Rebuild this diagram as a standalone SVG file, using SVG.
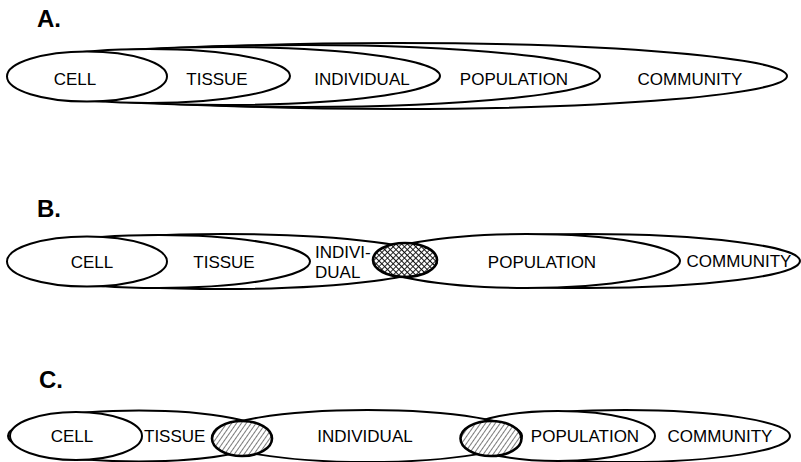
<svg xmlns="http://www.w3.org/2000/svg" width="801" height="462" viewBox="0 0 801 462">
<defs>
<pattern id="cross" patternUnits="userSpaceOnUse" width="4" height="4" patternTransform="rotate(45)">
<rect width="4" height="4" fill="#fff"/>
<path d="M0 0H4M0 0V4" stroke="#111" stroke-width="1.8"/>
</pattern>
<pattern id="diag" patternUnits="userSpaceOnUse" width="4" height="4" patternTransform="rotate(-55)">
<rect width="4" height="4" fill="#fff"/>
<path d="M0 0H4" stroke="#111" stroke-width="1.1"/>
</pattern>
<style>
.e{fill:#fff;stroke:#000;stroke-width:2}
.h{stroke:#000;stroke-width:2.6}
.t{font-family:"Liberation Sans",Arial,Helvetica,sans-serif;font-size:17px;fill:#000;text-anchor:middle}
.ts{text-anchor:start}
.lab{font-family:"Liberation Sans",Arial,Helvetica,sans-serif;font-size:24px;font-weight:bold;fill:#000}
</style>
</defs>
<rect width="801" height="462" fill="#fff"/>
<g id="connectors"/>

<!-- Panel A -->
<text class="lab" x="37" y="27">A.</text>
<g id="a-community"><ellipse class="e" cx="397.5" cy="76" rx="389.5" ry="33"/><text class="t" x="690" y="85">COMMUNITY</text></g>
<g id="a-population"><ellipse class="e" cx="304" cy="76" rx="296" ry="31"/><text class="t" x="514" y="85">POPULATION</text></g>
<g id="a-individual"><ellipse class="e" cx="224" cy="76" rx="216" ry="29"/><text class="t" x="362" y="85">INDIVIDUAL</text></g>
<g id="a-tissue"><ellipse class="e" cx="149" cy="76" rx="141" ry="27"/><text class="t" x="217" y="85">TISSUE</text></g>
<g id="a-cell"><ellipse class="e" cx="87" cy="76.5" rx="80" ry="25"/><text class="t" x="75" y="85">CELL</text></g>

<!-- Panel B -->
<text class="lab" x="37" y="217">B.</text>
<g id="b-community"><ellipse class="e" cx="586.5" cy="261" rx="213.5" ry="27"/><text class="t" x="739" y="267">COMMUNITY</text></g>
<g id="b-population"><ellipse class="e" cx="526.5" cy="261" rx="153.5" ry="27"/><text class="t" x="542" y="268">POPULATION</text></g>
<g id="b-individual"><ellipse class="e" cx="222.5" cy="261.5" rx="214.5" ry="27.5"/><text class="t ts" x="315" y="258">INDIVI-</text><text class="t ts" x="315" y="278">DUAL</text></g>
<g id="b-tissue"><ellipse class="e" cx="159" cy="261.5" rx="151" ry="26.5"/><text class="t" x="224" y="268">TISSUE</text></g>
<g id="b-cell"><ellipse class="e" cx="87" cy="261.5" rx="80" ry="25"/><text class="t" x="92" y="268">CELL</text></g>
<g id="b-overlap"><ellipse class="h" cx="405" cy="260" rx="32" ry="17" fill="url(#cross)"/></g>

<!-- Panel C -->
<text class="lab" x="39" y="388">C.</text>
<g id="c-community"><ellipse class="e" cx="625.5" cy="436" rx="164.5" ry="26"/><text class="t" x="720" y="442">COMMUNITY</text></g>
<g id="c-population"><ellipse class="e" cx="558" cy="436" rx="97" ry="25"/><text class="t" x="585" y="442">POPULATION</text></g>
<g id="c-individual"><ellipse class="e" cx="367.5" cy="436" rx="154.5" ry="26"/><text class="t" x="365" y="442">INDIVIDUAL</text></g>
<g id="c-tissue"><ellipse class="e" cx="139" cy="436" rx="131" ry="25.5"/><text class="t ts" x="144" y="442">TISSUE</text></g>
<g id="c-cell"><ellipse class="e" cx="76" cy="436" rx="66" ry="24"/><text class="t" x="72" y="442">CELL</text></g>
<g id="c-overlap-1"><ellipse class="h" cx="242" cy="438.5" rx="30" ry="17.5" fill="url(#diag)"/></g>
<g id="c-overlap-2"><ellipse class="h" cx="491" cy="438.5" rx="30.5" ry="17.5" fill="url(#diag)"/></g>
</svg>
